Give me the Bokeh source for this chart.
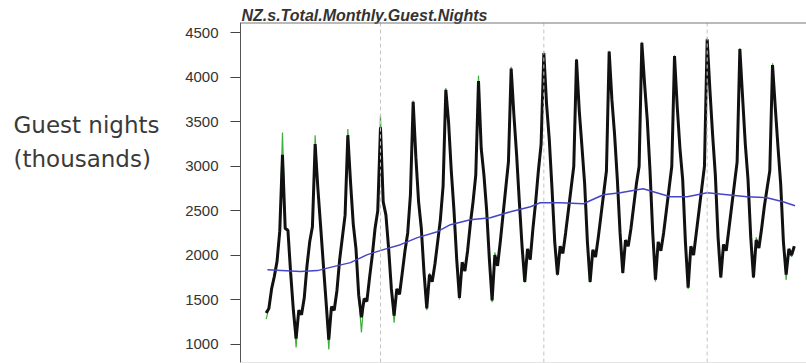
from bokeh.plotting import figure
from bokeh.models import Range1d, FixedTicker, Span, Title
from bokeh.layouts import row
from bokeh.core.properties import value
from bokeh.embed import file_html
from bokeh.resources import INLINE

# ---- data (thousands of guest nights) ----
title_text = "NZ.s.Total.Monthly.Guest.Nights"
y_label_lines = ["Guest nights", "(thousands)"]
y_ticks = [1000, 1500, 2000, 2500, 3000, 3500, 4000, 4500]
marker_years = [2000, 2005, 2010]

# black series (first month given per year)
black_1996 = [1350, 1400, 1620, 1760, 1930, 2270]            # from Jul
black_1997 = [3130, 2300, 2280, 1800, 1380, 1060, 1380, 1330, 1520, 1880, 2150, 2320]
black_1998 = [3250, 2750, 2330, 1900, 1480, 1050, 1420, 1380, 1600, 1950, 2200, 2450]
black_1999 = [3350, 2820, 2350, 2070, 1550, 1300, 1510, 1480, 1750, 2000, 2300, 2500]
black_2000 = [3440, 2600, 2450, 2070, 1620, 1320, 1620, 1560, 1800, 2050, 2250, 2680]
black_2001 = [3725, 3100, 2600, 2300, 1800, 1400, 1780, 1700, 1900, 2150, 2400, 2780]
black_2002 = [3860, 3500, 2950, 2500, 1950, 1520, 1920, 1820, 2050, 2350, 2600, 2900]
black_2003 = [3960, 3200, 2900, 2500, 1950, 1490, 2000, 1880, 2150, 2450, 2750, 3050]
black_2004 = [4100, 3580, 3130, 2600, 2100, 1700, 2070, 1950, 2300, 2600, 2950, 3250]
black_2005 = [4275, 3700, 3300, 2750, 2150, 1780, 2100, 2020, 2250, 2500, 2750, 3000]
black_2006 = [4200, 3630, 3220, 2800, 2150, 1700, 2060, 1980, 2200, 2450, 2700, 2950]
black_2007 = [4290, 3750, 3350, 2850, 2250, 1800, 2170, 2100, 2300, 2550, 2800, 3000]
black_2008 = [4390, 3930, 3520, 2950, 2250, 1725, 2150, 2050, 2250, 2500, 2750, 3000]
black_2009 = [4240, 3670, 3200, 2850, 2150, 1635, 2100, 2000, 2250, 2500, 2750, 3000]
black_2010 = [4430, 3860, 3350, 2900, 2200, 1750, 2120, 2050, 2300, 2550, 2800, 3050]
black_2011 = [4320, 3780, 3250, 2850, 2200, 1750, 2170, 2080, 2300, 2550, 2750, 2950]
black_2012 = [4140, 3670, 3220, 2800, 2150, 1780, 2070, 2000, 2100]   # to Sep

# green series (actual values)
green_1996 = [1280, 1400, 1620, 1760, 1930, 2270]
green_1997 = [3380, 2320, 2280, 1800, 1380, 960, 1380, 1330, 1520, 1880, 2150, 2320]
green_1998 = [3350, 2750, 2330, 1900, 1480, 940, 1420, 1380, 1600, 1950, 2200, 2450]
green_1999 = [3420, 2820, 2350, 2070, 1550, 1130, 1510, 1480, 1750, 2000, 2300, 2500]
green_2000 = [3580, 2600, 2480, 2070, 1620, 1240, 1620, 1560, 1800, 2050, 2250, 2680]
green_2001 = [3740, 3100, 2600, 2300, 1800, 1380, 1800, 1700, 1900, 2150, 2400, 2780]
green_2002 = [3880, 3500, 2950, 2500, 1950, 1500, 1920, 1820, 2050, 2350, 2600, 2900]
green_2003 = [4020, 3200, 2900, 2500, 1950, 1470, 2030, 1880, 2150, 2450, 2750, 3050]
green_2004 = [4120, 3580, 3130, 2600, 2100, 1690, 2070, 1950, 2300, 2600, 2950, 3250]
green_2005 = [4290, 3700, 3300, 2750, 2150, 1770, 2100, 2020, 2250, 2500, 2750, 3000]
green_2006 = [4210, 3630, 3220, 2800, 2150, 1690, 2060, 1980, 2200, 2450, 2700, 2950]
green_2007 = [4300, 3750, 3400, 2900, 2250, 1790, 2170, 2100, 2300, 2550, 2800, 3000]
green_2008 = [4400, 3930, 3550, 2950, 2250, 1700, 2150, 2050, 2250, 2500, 2750, 3000]
green_2009 = [4250, 3670, 3200, 2850, 2150, 1620, 2100, 2000, 2250, 2500, 2750, 3000]
green_2010 = [4450, 3860, 3350, 2900, 2200, 1740, 2120, 2050, 2300, 2550, 2800, 3050]
green_2011 = [4330, 3780, 3250, 2850, 2200, 1740, 2200, 2080, 2300, 2550, 2750, 2950]
green_2012 = [4160, 3670, 3220, 2800, 2150, 1720, 2070, 1980, 2100]

# blue trend (decimal year, value)
trend_year = [1996.54, 1997.55, 1998.07, 1998.56, 1999.08, 1999.60, 2000.09, 2000.61,
              2001.13, 2001.74, 2002.14, 2002.75, 2003.36, 2003.98, 2004.59, 2004.89,
              2005.50, 2006.21, 2006.82, 2007.34, 2008.04, 2008.35, 2008.87, 2009.39,
              2010.00, 2010.61, 2011.22, 2011.83, 2012.32, 2012.69]
trend_value = [1837, 1815, 1826, 1871, 1916, 2006, 2062, 2118,
               2197, 2264, 2343, 2399, 2421, 2489, 2545, 2590,
               2590, 2579, 2680, 2702, 2747, 2714, 2657, 2657,
               2702, 2680, 2657, 2646, 2601, 2556]

black_rows = [(1996, 7, black_1996), (1997, 1, black_1997), (1998, 1, black_1998),
              (1999, 1, black_1999), (2000, 1, black_2000), (2001, 1, black_2001),
              (2002, 1, black_2002), (2003, 1, black_2003), (2004, 1, black_2004),
              (2005, 1, black_2005), (2006, 1, black_2006), (2007, 1, black_2007),
              (2008, 1, black_2008), (2009, 1, black_2009), (2010, 1, black_2010),
              (2011, 1, black_2011), (2012, 1, black_2012)]
green_rows = [(1996, 7, green_1996), (1997, 1, green_1997), (1998, 1, green_1998),
              (1999, 1, green_1999), (2000, 1, green_2000), (2001, 1, green_2001),
              (2002, 1, green_2002), (2003, 1, green_2003), (2004, 1, green_2004),
              (2005, 1, green_2005), (2006, 1, green_2006), (2007, 1, green_2007),
              (2008, 1, green_2008), (2009, 1, green_2009), (2010, 1, green_2010),
              (2011, 1, green_2011), (2012, 1, green_2012)]


def flatten(rows):
    xs, ys = [], []
    for yr, first, vals in rows:
        for i, v in enumerate(vals):
            xs.append(yr + (first - 1 + i) / 12.0)
            ys.append(v)
    return xs, ys


xb, yb = flatten(black_rows)
xg, yg = flatten(green_rows)

TOTAL_W, TOTAL_H = 806, 363
LEFT_W = 180
TOP, BOTTOM = 22, 1

# ---- left panel holding the y-axis caption (its range maps to page pixels) ----
cap = figure(width=LEFT_W, height=TOTAL_H, output_backend="svg", toolbar_location=None,
             x_range=Range1d(0, LEFT_W), y_range=Range1d(TOTAL_H - BOTTOM, TOP),
             x_axis_location=None, y_axis_location=None,
             min_border_left=0, min_border_right=0, min_border_top=TOP,
             min_border_bottom=BOTTOM)
cap.outline_line_color = None
cap.grid.visible = False
cap.text(x=[13, 13], y=[124, 158], text=y_label_lines,
         text_font=value("DejaVu Sans"), text_font_size="23px",
         text_color="#3a3a3a", text_baseline="alphabetic", text_align="left")

# ---- main plot ----
p = figure(width=TOTAL_W - LEFT_W, height=TOTAL_H, output_backend="svg", toolbar_location=None,
           x_range=Range1d(1995.715, 2013.04), y_range=Range1d(792, 4618),
           x_axis_location=None,
           min_border_left=240 - LEFT_W, min_border_right=0, min_border_top=TOP,
           min_border_bottom=BOTTOM)
p.outline_line_color = None
p.xgrid.visible = False
p.ygrid.visible = False

t = Title(text=title_text, align="left", offset=1, standoff=-3,
          text_font="Liberation Sans", text_font_size="16px",
          text_font_style="bold italic", text_color="#333333")
p.add_layout(t, "above")

ax = p.yaxis[0]
ax.ticker = FixedTicker(ticks=y_ticks)
ax.minor_tick_line_color = None
ax.major_tick_out = 10
ax.major_tick_in = 0
ax.major_tick_line_color = "#444444"
ax.axis_line_color = "#555555"
ax.major_label_standoff = 12
ax.major_label_text_font = "Liberation Sans"
ax.major_label_text_font_size = "15px"
ax.major_label_text_color = "#333333"

for yr in marker_years:
    p.add_layout(Span(location=yr, dimension="height", line_color="#c4c4c4",
                      line_width=1, line_dash="4 3"))

p.add_layout(Span(location=4618, dimension="width", line_color="#777777", line_width=2))
p.add_layout(Span(location=792, dimension="width", line_color="#cccccc", line_width=1))

p.line(xg, yg, line_color="#3fae3f", line_width=1.2)
p.line(xb, yb, line_color="#111111", line_width=3)
p.line(trend_year, trend_value, line_color="#4545c8", line_width=1.5)

layout = row(cap, p)
open("out.html", "w").write(file_html(layout, INLINE))
